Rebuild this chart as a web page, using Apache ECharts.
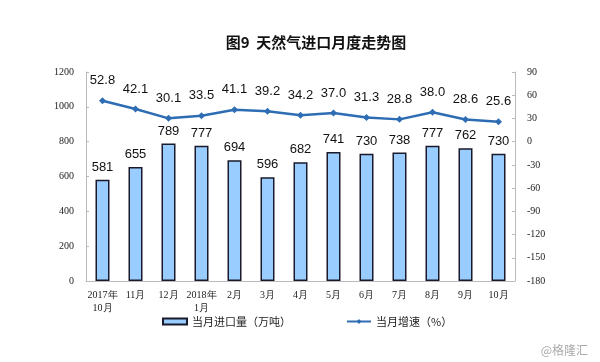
<!DOCTYPE html>
<html><head><meta charset="utf-8">
<script src="https://cdn.jsdelivr.net/npm/echarts@6/dist/echarts.min.js"></script>
<style>html,body{margin:0;padding:0;background:#fff}#c{width:600px;height:362px}</style>
</head><body><div id="c"></div>
<script>
const categories = ['2017年\n10月','11月','12月','2018年\n1月','2月','3月','4月','5月','6月','7月','8月','9月','10月'];
const importVolume = [581,655,789,777,694,596,682,741,730,738,777,762,730];
const growthRate = [52.8,42.1,30.1,33.5,41.1,39.2,34.2,37.0,31.3,28.8,38.0,28.6,25.6];
const leftTicks = [0,1200,200];
const rightTicks = [-180,90,30];

const chart = echarts.init(document.getElementById('c'));
const serif = '"Liberation Serif","DejaVu Serif",serif';
const sans = '"Liberation Sans",Arial,"Noto Sans CJK SC",sans-serif';
chart.setOption({
  animation:false,
  backgroundColor:'#fff',
  title:{text:'图9  天然气进口月度走势图',left:311,textAlign:'center',top:30,
    textStyle:{fontSize:15,fontWeight:'bold',color:'#111',fontFamily:'"Noto Sans CJK SC",sans-serif'}},
  graphic:[{type:'text',right:12,bottom:6,style:{text:'@格隆汇',fill:'#aaa',fontSize:12,fontFamily:'"Noto Sans CJK SC",sans-serif'}}],
  legend:{bottom:30,left:157,itemGap:55,itemWidth:24,itemHeight:6,
    textStyle:{fontSize:11,color:'#222',fontFamily:'"Noto Sans CJK SC",sans-serif'},
    data:[{name:'当月进口量（万吨）',icon:'rect'},{name:'当月增速（%）'}]},
  grid:{left:86,right:85,top:72,bottom:81},
  xAxis:{type:'category',data:categories,
    axisLine:{lineStyle:{color:'#bbb'}},
    axisTick:{inside:true,length:3,lineStyle:{color:'#bbb'}},
    axisLabel:{fontSize:10,color:'#222',fontFamily:serif,lineHeight:13,margin:8,interval:0}},
  yAxis:[
    {type:'value',min:leftTicks[0],max:leftTicks[1],interval:leftTicks[2],
     splitLine:{show:false},axisLine:{show:true,lineStyle:{color:'#bbb'}},
     axisTick:{show:true,inside:true,length:3,lineStyle:{color:'#bbb'}},
     axisLabel:{fontSize:10,color:'#222',fontFamily:serif,margin:12,formatter:v=>String(v)}},
    {type:'value',min:rightTicks[0],max:rightTicks[1],interval:rightTicks[2],
     splitLine:{show:false},axisLine:{show:true,lineStyle:{color:'#bbb'}},
     axisTick:{show:true,inside:true,length:3,lineStyle:{color:'#bbb'}},
     axisLabel:{fontSize:10,color:'#222',fontFamily:serif,margin:12,formatter:v=>String(v)}}
  ],
  series:[
    {name:'当月进口量（万吨）',type:'bar',data:importVolume,barWidth:14,
     itemStyle:{color:'#99ccff',borderColor:'#1a1a2a',borderWidth:1.5},
     label:{show:true,position:'top',distance:6,fontSize:13,color:'#111',fontFamily:sans}},
    {name:'当月增速（%）',type:'line',yAxisIndex:1,data:growthRate,
     symbol:'diamond',symbolSize:7,
     lineStyle:{color:'#2e6db4',width:2.5},itemStyle:{color:'#2e6db4'},
     label:{show:true,position:'top',distance:10,fontSize:13,color:'#111',fontFamily:sans,
       formatter:p=>p.value.toFixed(1)}}
  ]
});
</script></body></html>
